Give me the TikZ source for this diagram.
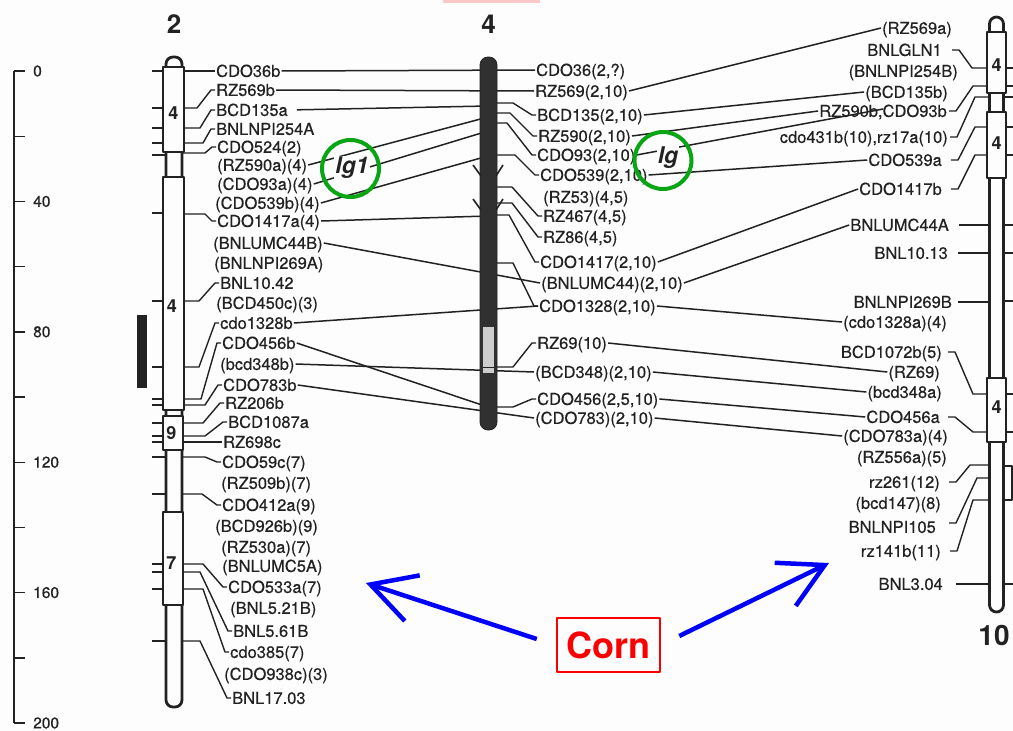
\documentclass[tikz,border=0pt]{standalone}
\usepackage{fontspec}
\setmainfont{TeX Gyre Heros}
\newfontfamily\markfont{TeX Gyre Heros}[FakeBold=0.45]
\usetikzlibrary{arrows.meta,calc}
\definecolor{ink}{HTML}{222222}
\definecolor{paper}{HTML}{FDFDFD}
\definecolor{ringgreen}{RGB}{10,165,20}
\definecolor{arrowblue}{RGB}{0,0,250}
\definecolor{cornred}{RGB}{250,0,0}
\definecolor{barfill}{HTML}{303030}
\definecolor{barlight}{HTML}{CDCDCD}
\begin{document}
\begin{tikzpicture}[x=1pt,y=-1pt,line join=round,
  mk/.style={font=\markfont\fontsize{16.5}{18}\selectfont,text=ink,inner sep=1pt,text height=11.8pt,text depth=0pt},
  mkl/.style={mk,anchor=west},
  mkr/.style={mk,anchor=east},
  link/.style={draw=ink,line width=1.5pt},
  lead/.style={draw=ink,line width=1.4pt},
  tick/.style={draw=ink,line width=1.4pt},
  tube/.style={draw=ink,line width=2.8pt,fill=paper,rounded corners=7pt},
  seg/.style={draw=ink,line width=1.2pt,fill=paper},
  segnum/.style={font=\bfseries\fontsize{18}{18}\selectfont,text=ink,inner sep=0pt},
  chrname/.style={font=\bfseries\fontsize{26}{26}\selectfont,text=ink,inner sep=0pt},
  scalelab/.style={font=\markfont\fontsize{15.5}{16}\selectfont,text=ink,anchor=west,inner sep=0pt},
  ring/.style={draw=ringgreen,line width=4pt,circle,minimum size=57pt,inner sep=0pt},
  locus/.style={font=\bfseries\itshape\fontsize{23}{23}\selectfont,text=ink,fill=paper,inner sep=1.2pt},
  corn/.style={draw=cornred,line width=2.5pt,text=cornred,font=\bfseries\fontsize{36}{36}\selectfont,minimum width=103pt,minimum height=54pt,inner sep=0pt},
  pointer/.style={draw=arrowblue,line width=4.5pt,-{Straight Barb[length=44pt,width=48pt]}},
]
\fill[paper] (0,0) rectangle (1013,731);
\useasboundingbox (0,0) rectangle (1013,731);
\fill[red!22] (443,0) rectangle (540,2.5);

% ---------- scale (cM) ----------
\draw[ink,line width=1.8pt] (14,71) -- (14,723);
\foreach \k in {0,...,10} \draw[tick] (14,{71+65.2*\k}) -- (25,{71+65.2*\k});
\foreach \v/\k in {0/0,40/2,80/4,120/6,160/8,200/10}
  \node[scalelab] (s\k) at (33,{71+65.2*\k}) {\v};
\fill[ink] (137,315) rectangle (147,388);

% ---------- marker names, chromosome 2 ----------
\node[mkl] (a1) at (215,71) {CDO36b};
\node[mkl] (a2) at (215,90) {RZ569b};
\node[mkl] (a3) at (215,110) {BCD135a};
\node[mkl] (a4) at (215,129) {BNLNPI254A};
\node[mkl] (a5) at (216,147) {CDO524(2)};
\node[mkl] (a6) at (216,165) {(RZ590a)(4)};
\node[mkl] (a7) at (216,184) {(CDO93a)(4)};
\node[mkl] (a8) at (214,203) {(CDO539b)(4)};
\node[mkl] (a9) at (216,221) {CDO1417a(4)};
\node[mkl] (a10) at (212,243) {(BNLUMC44B)};
\node[mkl] (a11) at (213,263) {(BNLNPI269A)};
\node[mkl] (a12) at (219,283) {BNL10.42};
\node[mkl] (a13) at (215,303) {(BCD450c)(3)};
\node[mkl] (a14) at (219,323) {cdo1328b};
\node[mkl] (a15) at (221,343) {CDO456b};
\node[mkl] (a16) at (219,364) {(bcd348b)};
\node[mkl] (a17) at (222,385) {CDO783b};
\node[mkl] (a18) at (224,403) {RZ206b};
\node[mkl] (a19) at (227,422) {BCD1087a};
\node[mkl] (a20) at (222,442) {RZ698c};
\node[mkl] (a21) at (221,462) {CDO59c(7)};
\node[mkl] (a22) at (220,483) {(RZ509b)(7)};
\node[mkl] (a23) at (221,505) {CDO412a(9)};
\node[mkl] (a24) at (214,526) {(BCD926b)(9)};
\node[mkl] (a25) at (220,547) {(RZ530a)(7)};
\node[mkl] (a26) at (221,566) {(BNLUMC5A)};
\node[mkl] (a27) at (227,587) {CDO533a(7)};
\node[mkl] (a28) at (229,608) {(BNL5.21B)};
\node[mkl] (a29) at (232,631) {BNL5.61B};
\node[mkl] (a30) at (229,652) {cdo385(7)};
\node[mkl] (a31) at (223,674) {(CDO938c)(3)};
\node[mkl] (a32) at (231,698) {BNL17.03};

% ---------- marker names, chromosome 4 ----------
\node[mkl] (b1) at (535,70) {CDO36(2,?)};
\node[mkl] (b2) at (534,91) {RZ569(2,10)};
\node[mkl] (b3) at (536,115) {BCD135(2,10)};
\node[mkl] (b4) at (537,136) {RZ590(2,10)};
\node[mkl] (b5) at (536,155) {CDO93(2,10)};
\node[mkl] (b6) at (539,175) {CDO539(2,10)};
\node[mkl] (b7) at (542,197) {(RZ53)(4,5)};
\node[mkl] (b8) at (542,216) {RZ467(4,5)};
\node[mkl] (b9) at (542,237) {RZ86(4,5)};
\node[mkl] (b10) at (539,262) {CDO1417(2,10)};
\node[mkl] (b11) at (540,283) {(BNLUMC44)(2,10)};
\node[mkl] (b12) at (538,306) {CDO1328(2,10)};
\node[mkl] (b13) at (536,343) {RZ69(10)};
\node[mkl] (b14) at (534,372) {(BCD348)(2,10)};
\node[mkl] (b15) at (536,399) {CDO456(2,5,10)};
\node[mkl] (b16) at (534,418) {(CDO783)(2,10)};

% ---------- marker names, chromosome 10 ----------
\node[mkr] (c1) at (953,28) {(RZ569a)};
\node[mkr] (c2) at (943,50) {BNLGLN1};
\node[mkr] (c3) at (959,71) {(BNLNPI254B)};
\node[mkr] (c4) at (949,92) {(BCD135b)};
\node[mkr] (c5) at (948,111) {RZ590b,CDO93b};
\node[mkr] (c6) at (949,137) {cdo431b(10),rz17a(10)};
\node[mkr] (c7) at (943,160) {CDO539a};
\node[mkr] (c8) at (943,189) {CDO1417b};
\node[mkr] (c9) at (950,225) {BNLUMC44A};
\node[mkr] (c10) at (949,253) {BNL10.13};
\node[mkr] (c11) at (953,302) {BNLNPI269B};
\node[mkr] (c12) at (948,322) {(cdo1328a)(4)};
\node[mkr] (c13) at (943,352) {BCD1072b(5)};
\node[mkr] (c14) at (941,372) {(RZ69)};
\node[mkr] (c15) at (943,392) {(bcd348a)};
\node[mkr] (c16) at (941,417) {CDO456a};
\node[mkr] (c17) at (949,436) {(CDO783a)(4)};
\node[mkr] (c18) at (948,457) {(RZ556a)(5)};
\node[mkr] (c19) at (941,482) {rz261(12)};
\node[mkr] (c20) at (942,503) {(bcd147)(8)};
\node[mkr] (c21) at (937,527) {BNLNPI105};
\node[mkr] (c22) at (942,551) {rz141b(11)};
\node[mkr] (c23) at (944,584) {BNL3.04};

% reference points on the chromosome axes
\coordinate (xtwo) at (183,0);
\coordinate (xten) at (991,0);
\coordinate (m-bcd135) at (488,106);
\coordinate (m-rz590) at (488,117);
\coordinate (m-cdo93) at (488,131);
\coordinate (m-cdo539) at (488,156);
\coordinate (m-cdo1417) at (488,216);
\coordinate (m-cdo456) at (488,407);
\coordinate (c5b) at ($(c5.west)+(65,-2)$);

% ---------- homologous links, 2 to 4 ----------
\draw[link] (a1.east) -- (b1.west);
\draw[link] (a2.east) -- (b2.west);
\draw[link,shorten <=8pt] (a3.east) -- (m-bcd135);
\draw[link] (a6.east) -- (m-rz590);
\draw[link] (a7.east) -- (m-cdo93);
\draw[link] (a8.east) -- (m-cdo539);
\draw[link] (a9.east) -- (m-cdo1417);
\draw[link] (a10.east) -- (b11.west);
\draw[link] (a14.east) -- (b12.west);
\draw[link] (a15.east) -- (m-cdo456);
\draw[link] (a16.east) -- (b14.west);
\draw[link] (a17.east) -- (b16.west);

% ---------- homologous links, 4 to 10 ----------
\draw[link] (b2.east) -- (c1.west);
\draw[link] (b3.east) -- (c4.west);
\draw[link] (b4.east) -- (c5.west);
\draw[link] (b5.east) -- (c5b);
\draw[link] (b6.east) -- (c7.west);
\draw[link] (b10.east) -- (c8.west);
\draw[link] (b11.east) -- (c9.west);
\draw[link] (b12.east) -- (c12.west);
\draw[link] (b13.east) -- (c14.west);
\draw[link] (b14.east) -- (c15.west);
\draw[link] (b15.east) -- (c16.west);
\draw[link] (b16.east) -- (c17.west);

% ---------- leaders, chromosome 2 ----------
\draw[lead] (a1.west -| xtwo) -- (a1.west);
\draw[lead] (a20.west -| xtwo) -- (a20.west);
\foreach \ty/\bx/\lab in {108/197/a2,128/200/a3,143/203/a4,153/205/a5,214/205/a9,
    301/199/a12,367/199/a14,399/201/a15,405/205/a17,423/203/a18,436/205/a19,
    457/205/a21,494/202/a23,564/203/a27,572/200/a29,589/203/a30,641/200/a32}
  \draw[lead] (183,\ty) -- (\bx,\ty) -- ([xshift=-4pt]\lab.west) -- (\lab.west);
\foreach \y in {71,108,128,143,155,213,301,367,399,405,423,436,442,457,494,564,572,589,641}
  \draw[tick] (152,\y) -- (165,\y);

% ---------- leaders, chromosome 4 ----------
\foreach \ty/\bx/\lab in {103/513/b3,113/510/b4,123/507/b5,155/515/b6,187/512/b8,
    203/512/b9,215/509/b10,263/513/b12,367/513/b13,407/513/b15}
  \draw[lead] (494,\ty) -- (\bx,\ty) -- ([xshift=-4pt]\lab.west) -- (\lab.west);

% ---------- leaders, chromosome 10 ----------
\foreach \lab/\gap/\ty/\bx in {c2/9/68/972,c5/1/86/973,c6/1/97/975,c7/8/127/975,
    c8/8/155/975,c13/5/394/973,c16/7/432/973,c19/8/465/970,c22/8/500/973}
  \draw[lead] ([xshift=\gap pt]\lab.east) -- ++(7,0) -- (\bx,\ty) -- (992,\ty);
\draw[lead] ([xshift=12pt,yshift=4pt]c21.east) -- ++(7,0) -- (977,478) -- (992,478);
\foreach \lab/\gap in {c9/9,c10/9,c11/5,c23/12}
  \draw[lead] ([xshift=\gap pt]\lab.east) -- (\lab.east -| xten);
\foreach \y in {68,86,97,127,155,225,253,301,394,432,584}
  \draw[tick] (1002,\y) -- (1013,\y);

% ---------- chromosome 2 ----------
\draw[tube] (166,57) rectangle (182,707);
\draw[seg] (163,67) rectangle (184,152);
\draw[seg] (163,177) rectangle (184,410);
\draw[seg] (163,416) rectangle (183,450);
\draw[seg] (163,512) rectangle (183,605);
\node[segnum] (n2a) at (173.5,113) {4};
\node[segnum] (n2b) at (172,306) {4};
\node[segnum] (n2c) at (171.5,433) {9};
\node[segnum] (n2d) at (171.5,563) {7};

% ---------- chromosome 4 ----------
\draw[draw=ink,fill=barfill,line width=0.8pt,rounded corners=8pt] (480,57) rectangle (497,430);
\fill[barlight] (483,327) rectangle (494,373);
\draw[ink,line width=1pt] (483,367) -- (494,367);
\foreach \t in {165,199} {
  \draw[ink,line width=1.6pt] (473,\t) -- (481,{\t+11});
  \draw[ink,line width=1.6pt] (496,{\t+11}) -- (503,\t);
}

% ---------- chromosome 10 ----------
\draw[tube] (989.5,17) rectangle (1003.5,612);
\draw[seg] (987,32) rectangle (1006,93);
\draw[seg] (987,112) rectangle (1006,178);
\draw[seg] (987,378) rectangle (1006,442);
\draw[lead] (1003,466) rectangle (1012,500);
\node[segnum] (n10a) at (996.5,65) {4};
\node[segnum] (n10b) at (996.5,143) {4};
\node[segnum] (n10c) at (996.5,407) {4};

% ---------- chromosome numbers ----------
\node[chrname] (t2) at (174,24) {2};
\node[chrname] (t4) at (488.5,24) {4};
\node[chrname,font=\bfseries\fontsize{28}{28}\selectfont] (t10) at (994,635) {10};

% ---------- liguleless loci ----------
\node[ring] (ringL) at (350.5,168.5) {};
\node[ring] (ringR) at (663,160.5) {};
\node[locus] (lgL) at (352,168) {lg1};
\node[locus] (lgR) at (668,158) {lg};

% ---------- species tag ----------
\node[corn] (cornbox) at (608.5,645) {Corn};
\coordinate (tipL) at (366,583);
\coordinate (tipR) at (829,563);
\draw[pointer] ([xshift=-19pt,yshift=6pt]cornbox.west) -- (tipL);
\draw[pointer] ([xshift=18pt,yshift=9pt]cornbox.east) -- (tipR);
\end{tikzpicture}
\end{document}
